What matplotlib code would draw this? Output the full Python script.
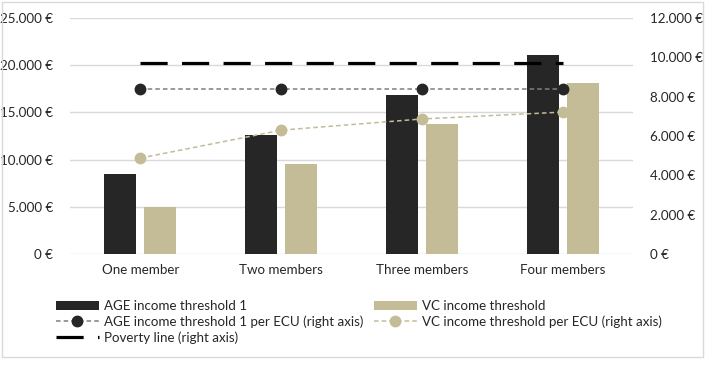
import numpy as np
import matplotlib.pyplot as plt
from matplotlib.patches import Rectangle
from matplotlib.ticker import FuncFormatter

categories = ['One member', 'Two members', 'Three members', 'Four members']
age_threshold = [8475, 12650, 16850, 21100]
vc_threshold = [4980, 9530, 13800, 18100]
age_per_ecu = [8400, 8400, 8400, 8400]
vc_per_ecu = [4880, 6300, 6870, 7220]
poverty_line = [9720, 9720, 9720, 9720]

plt.rcParams['font.family'] = ['Lato', 'DejaVu Sans']
fs = 9.6

dark = '#262626'
beige = '#c4bc96'
txt = '#262626'

fmt = FuncFormatter(lambda v, p: '{:,.0f} €'.format(v).replace(',', '.'))

fig = plt.figure(figsize=(7.08, 3.70), dpi=100)
fig.patches.append(Rectangle((0.003, 0.035), 0.99, 0.96, transform=fig.transFigure,
                             fill=False, edgecolor='#d9d9d9', linewidth=1))
ax = fig.add_axes([0.0989, 0.3135, 0.7953, 0.6375])
x = np.arange(len(categories))
w = 0.227
b1 = ax.bar(x - 0.142, age_threshold, w, color=dark, label='AGE income threshold 1', zorder=2)
b2 = ax.bar(x + 0.142, vc_threshold, w, color=beige, label='VC income threshold', zorder=2)
ax.set_ylim(0, 25000)
ax.set_yticks(np.arange(0, 25001, 5000))
ax.yaxis.set_major_formatter(fmt)
ax.set_xlim(-0.5, 3.5)
ax.set_xticks(x)
ax.set_xticklabels(categories)
ax.grid(axis='y', color='#d9d9d9', linewidth=1, zorder=0)
ax.set_axisbelow(True)
for s in ax.spines.values():
    s.set_visible(False)
ax.tick_params(length=0, colors=txt, labelsize=fs)
ax.tick_params(axis='y', pad=12)
ax.tick_params(axis='x', pad=7)

ax2 = ax.twinx()
ax2.set_ylim(0, 12000)
ax2.set_yticks(np.arange(0, 12001, 2000))
ax2.yaxis.set_major_formatter(fmt)
for s in ax2.spines.values():
    s.set_visible(False)
ax2.tick_params(length=0, colors=txt, labelsize=fs, pad=12)
l1, = ax2.plot(x, age_per_ecu, color='#7f7f7f', linestyle=(0, (3, 2)), linewidth=1.1,
               marker='o', markersize=7.5, markerfacecolor=dark, markeredgecolor=dark,
               label='AGE income threshold 1 per ECU (right axis)')
l2, = ax2.plot(x, vc_per_ecu, color=beige, linestyle=(0, (3, 2)), linewidth=1.1,
               marker='o', markersize=7.5, markerfacecolor=beige, markeredgecolor=beige,
               label='VC income threshold per ECU (right axis)')
l3, = ax2.plot(x, poverty_line, color='black', linestyle=(0, (8.5, 4.5)), linewidth=2.3,
               label='Poverty line (right axis)')

fig.legend(handles=[b1, l1, l3, b2, l2], loc='upper left', bbox_to_anchor=(0.062, 0.222),
           ncol=2, frameon=False, handlelength=3.2, handletextpad=0.4,
           columnspacing=0.8, labelspacing=0.25, fontsize=fs, labelcolor=txt)

plt.savefig('out.png')
